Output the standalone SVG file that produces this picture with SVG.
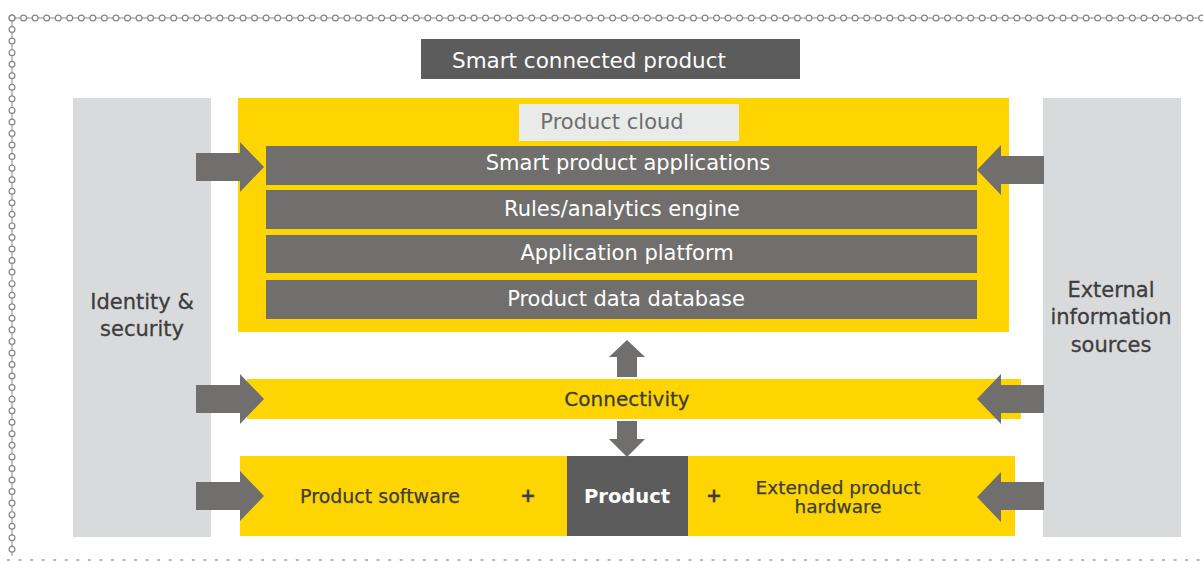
<svg xmlns="http://www.w3.org/2000/svg" width="1203" height="561" viewBox="0 0 1203 561">
<defs>
<style>
.t{font-family:"DejaVu Sans","Liberation Sans",sans-serif;text-anchor:middle;dominant-baseline:central}
.w{fill:#ffffff;font-size:21px}
.d{fill:#3d3d3d;font-size:21px;stroke:#3d3d3d;stroke-width:0.3}
.s{fill:#3d3d3d;font-size:19px;stroke:#3d3d3d;stroke-width:0.25}
.bar{fill:#706f6d}
.yel{fill:#ffd500}
.gry{fill:#d9dadb}
.arr{fill:#706f6d}
</style>
</defs>
<rect width="1203" height="561" fill="#ffffff"/>
<g id="frame">
<line x1="12" y1="18" x2="1203" y2="18" stroke="#8a8a8a" stroke-width="1"/>
<line x1="12" y1="18" x2="12" y2="556" stroke="#8a8a8a" stroke-width="1"/>
<line x1="12" y1="18" x2="1203" y2="18" stroke="#858585" stroke-width="7" stroke-linecap="round" stroke-dasharray="0 11.55"/>
<line x1="12" y1="18" x2="1203" y2="18" stroke="#ffffff" stroke-width="4.6" stroke-linecap="round" stroke-dasharray="0 11.55"/>
<line x1="12" y1="18" x2="12" y2="556" stroke="#858585" stroke-width="7" stroke-linecap="round" stroke-dasharray="0 11.55"/>
<line x1="12" y1="18" x2="12" y2="556" stroke="#ffffff" stroke-width="4.6" stroke-linecap="round" stroke-dasharray="0 11.55"/>
<line x1="7" y1="560" x2="1203" y2="560" stroke="#a0a0a0" stroke-width="1.5" stroke-dasharray="3 8.55"/>
</g>
<g id="smart-connected-product">
<rect x="421" y="39" width="379" height="40" fill="#5c5c5c"/>
<text class="t w" x="589" y="60" style="font-size:21.5px">Smart connected product</text>
</g>
<g id="identity-security">
<rect class="gry" x="73" y="98" width="138" height="439"/>
<text class="t d" x="142" y="302">Identity &amp;</text>
<text class="t d" x="142" y="329">security</text>
</g>
<g id="external-sources">
<rect class="gry" x="1043" y="98" width="138" height="439"/>
<text class="t d" x="1111" y="290">External</text>
<text class="t d" x="1111" y="317">information</text>
<text class="t d" x="1111" y="345">sources</text>
</g>
<g id="product-cloud">
<rect class="yel" x="238" y="98" width="771" height="234"/>
<rect x="519" y="104" width="220" height="37" fill="#e9ebeb"/>
<text class="t" x="612" y="122" style="fill:#6e6e6e;font-size:21px">Product cloud</text>
</g>
<g id="smart-product-applications">
<rect class="bar" x="266" y="146" width="711" height="39"/>
<text class="t w" x="628" y="163">Smart product applications</text>
</g>
<g id="rules-analytics-engine">
<rect class="bar" x="266" y="190" width="711" height="39"/>
<text class="t w" x="622" y="209">Rules/analytics engine</text>
</g>
<g id="application-platform">
<rect class="bar" x="266" y="235" width="711" height="38"/>
<text class="t w" x="627" y="253">Application platform</text>
</g>
<g id="product-data-database">
<rect class="bar" x="266" y="280" width="711" height="39"/>
<text class="t w" x="626" y="299">Product data database</text>
</g>
<g id="connectivity">
<rect class="yel" x="247" y="379" width="774" height="40"/>
<text class="t d" x="627" y="399" style="font-size:20px">Connectivity</text>
</g>
<g id="product-row">
<rect class="yel" x="240" y="456" width="775" height="80"/>
<text class="t s" x="380" y="496">Product software</text>
<text class="t s" x="528" y="495" style="font-weight:bold">+</text>
<text class="t s" x="714" y="495" style="font-weight:bold">+</text>
<text class="t s" x="838" y="487" style="font-size:18.5px">Extended product</text>
<text class="t s" x="838" y="506" style="font-size:18.5px">hardware</text>
</g>
<g id="product">
<rect x="567" y="456" width="121" height="80" fill="#5c5c5c"/>
<text class="t" x="627" y="496" style="fill:#ffffff;font-size:19.5px;font-weight:bold">Product</text>
</g>
<g id="connectors">
<path class="arr" d="M196 153H240V142L264 167L240 192V181H196Z"/>
<path class="arr" d="M1044 156H1001V145L977 170L1001 195V184H1044Z"/>
<path class="arr" d="M196 385H240V374L264 399L240 424V413H196Z"/>
<path class="arr" d="M1044 385H1001V374L977 399L1001 424V413H1044Z"/>
<path class="arr" d="M196 482H240V471L264 496L240 521V510H196Z"/>
<path class="arr" d="M1044 482H1001V472L977 497L1001 522V510H1044Z"/>
<path class="arr" d="M617 377V357H609L627 340L645 357H637V377Z"/>
<path class="arr" d="M617 421V439H609L627 457L645 439H637V421Z"/>
</g>
</svg>
